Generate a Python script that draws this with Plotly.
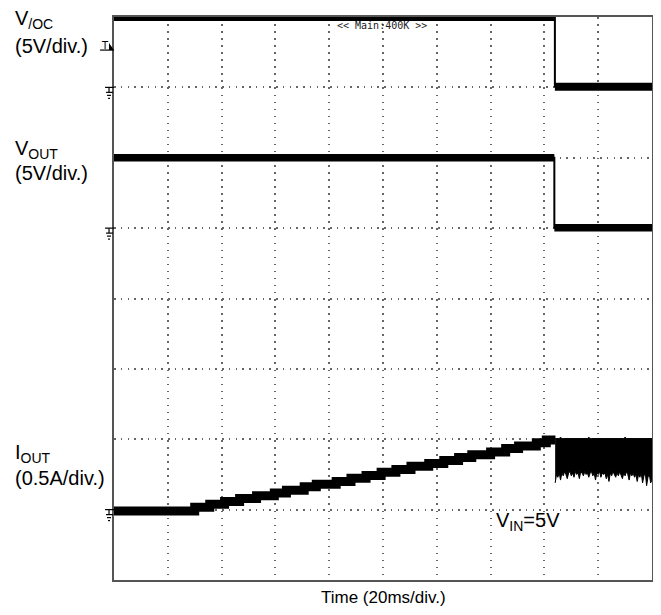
import plotly.graph_objects as go

# scope settings: 20 ms/div horizontally (10 div), 8 div vertically
t_div = 20.0
n_xdiv = 10
n_ydiv = 8

# channel ground positions (in divisions from bottom) and scale per division
voc_ground, voc_scale = 7, 5.0      # V/div
vout_ground, vout_scale = 5, 5.0    # V/div
iout_ground, iout_scale = 1, 0.5    # A/div
trigger_level = 2.65                # V on the /OC channel

# /OC pin voltage (V)
voc_t = [0, 163.9, 163.9, 200]
voc_v = [5.0, 5.0, 0.05, 0.05]

# output voltage (V)
vout_t = [0, 163.7, 163.7, 200]
vout_v = [5.0, 5.0, 0.03, 0.03]

# output current ramp (A), stepped as seen on the scope
iout_t = [0, 30.0, 35.6, 41.1, 46.7, 53.0, 59.6, 64.1, 70.7, 75.2, 82.6, 88.1, 93.7,
          99.3, 104.8, 110.4, 117.0, 122.6, 128.1, 133.0, 140.0, 145.6, 150.4, 157.0,
          160.7, 164.1]
iout_a = [-0.01, 0.016, 0.039, 0.058, 0.079, 0.098, 0.119, 0.138, 0.162, 0.181, 0.200,
          0.223, 0.242, 0.266, 0.285, 0.308, 0.328, 0.349, 0.370, 0.389, 0.410, 0.434,
          0.452, 0.476, 0.495, 0.495]

# noisy current after the switch turns off (A): upper and lower envelope
noise_t = [164, 164.5, 165, 165.5, 166, 166.5, 167, 167.5, 168, 168.5, 169, 169.5, 170,
           170.5, 171, 171.5, 172, 172.5, 173, 173.5, 174, 174.5, 175, 175.5, 176, 176.5,
           177, 177.5, 178, 178.5, 179, 179.5, 180, 180.5, 181, 181.5, 182, 182.5, 183,
           183.5, 184, 184.5, 185, 185.5, 186, 186.5, 187, 187.5, 188, 188.5, 189, 189.5,
           190, 190.5, 191, 191.5, 192, 192.5, 193, 193.5, 194, 194.5, 195, 195.5, 196,
           196.5, 197, 197.5, 198, 198.5, 199, 199.5, 200]
noise_top = [0.505] * 4 + [0.515] + [0.505] * 20 + [0.515] + [0.505] * 26 + [0.515] + [0.505] * 20
noise_bot = [0.19, 0.25, 0.23, 0.26, 0.21, 0.26, 0.24, 0.27, 0.25, 0.22, 0.26, 0.27,
             0.24, 0.26, 0.23, 0.27, 0.25, 0.26, 0.22, 0.27, 0.26, 0.24, 0.27, 0.25,
             0.26, 0.23, 0.26, 0.27, 0.24, 0.26, 0.21, 0.26, 0.25, 0.27, 0.23, 0.26,
             0.25, 0.26, 0.22, 0.25, 0.20, 0.26, 0.24, 0.27, 0.25, 0.23, 0.26, 0.24,
             0.27, 0.25, 0.22, 0.26, 0.24, 0.27, 0.25, 0.21, 0.26, 0.24, 0.26, 0.23,
             0.25, 0.20, 0.25, 0.23, 0.26, 0.19, 0.24, 0.26, 0.17, 0.23, 0.25, 0.19, 0.21]


def to_div(vals, ground, scale):
    return [ground + v / scale for v in vals]


def split_flat(ts, vs):
    # the two flat parts of a step waveform, drawn thick
    return ts[0:2] + [None] + ts[2:4], vs[0:2] + [None] + vs[2:4]


# the page body adds 8px around the figure
W, H = 653, 607
L, R, T, B = 106, 7, 8, 35
OFF = 8
pw, ph = W - L - R, H - T - B

fig = go.Figure()

# /OC channel
voc_y = to_div(voc_v, voc_ground, voc_scale)
fig.add_trace(go.Scatter(x=voc_t, y=voc_y, mode='lines', line=dict(color='black', width=2)))
sx, sy = split_flat(voc_t, voc_y)
fig.add_trace(go.Scatter(x=sx, y=sy, mode='lines', line=dict(color='black', width=8)))

# VOUT channel
vout_y = to_div(vout_v, vout_ground, vout_scale)
fig.add_trace(go.Scatter(x=vout_t, y=vout_y, mode='lines', line=dict(color='black', width=2)))
sx, sy = split_flat(vout_t, vout_y)
fig.add_trace(go.Scatter(x=sx, y=sy, mode='lines', line=dict(color='black', width=7.5)))

# IOUT channel
fig.add_trace(go.Scatter(x=iout_t, y=to_div(iout_a, iout_ground, iout_scale), mode='lines',
                         line=dict(color='black', width=9, shape='hv')))
band_x = noise_t + noise_t[::-1]
band_y = to_div(noise_top, iout_ground, iout_scale) + to_div(noise_bot[::-1], iout_ground, iout_scale)
fig.add_trace(go.Scatter(x=band_x, y=band_y, mode='lines', fill='toself', fillcolor='black',
                         line=dict(color='black', width=1)))

fig.update_xaxes(range=[0, t_div * n_xdiv], dtick=t_div, showticklabels=False, ticks='',
                 showgrid=True, gridcolor='#666', gridwidth=1.5, griddash='1.5px,5.55px',
                 zeroline=False, showline=True, mirror=True, linecolor='#555', linewidth=2)
fig.update_yaxes(range=[0, n_ydiv], dtick=1, showticklabels=False, ticks='',
                 showgrid=True, gridcolor='#666', gridwidth=1.5, griddash='1.5px,5.25px',
                 zeroline=False, showline=True, mirror=True, linecolor='#555', linewidth=2)


def px_x(dx):
    return dx / pw


def px_y(dy):
    return dy / ph


def page_x(px):
    return (px - OFF - L) / pw


def page_y(py):
    return 1 - (py - OFF - T) / ph


# ground markers at the left edge of each channel
for g in (voc_ground, vout_ground, iout_ground):
    yp = g / n_ydiv
    segs = [(-9, 0, 0, 0), (-5, -5, 0, 5), (-8, -1, 5, 5), (-7, -3, 8, 8), (-6, -4, 11, 11)]
    for x0, x1, y0, y1 in segs:
        fig.add_shape(type='line', xref='paper', yref='paper',
                      x0=px_x(x0), x1=px_x(x1), y0=yp - px_y(y0), y1=yp - px_y(y1),
                      line=dict(color='black', width=1.2))

# trigger marker
ty = (voc_ground + trigger_level / voc_scale) / n_ydiv
fig.add_shape(type='line', xref='paper', yref='paper', x0=px_x(-14), x1=0, y0=ty, y1=ty,
              line=dict(color='black', width=1.2))
fig.add_shape(type='path', xref='paper', yref='paper', fillcolor='black', line=dict(width=0),
              path=f'M {px_x(-5)},{ty + px_y(7)} L 0,{ty} L {px_x(-5)},{ty} Z')
fig.add_annotation(text='T', xref='paper', yref='paper', x=px_x(-9), y=ty + px_y(5),
                   showarrow=False, font=dict(size=10, color='black', family='DejaVu Sans'),
                   xanchor='center', yanchor='middle')

lab_font = dict(family='Liberation Sans, Arial, sans-serif', size=20, color='black')
labels = [('V<sub>/OC</sub>', 19), ('(5V/div.)', 45),
          ('V<sub>OUT</sub>', 149), ('(5V/div.)', 172),
          ('I<sub>OUT</sub>', 453), ('(0.5A/div.)', 478)]
for txt, ypx in labels:
    fig.add_annotation(text=txt, xref='paper', yref='paper', x=page_x(13),
                       y=page_y(ypx), xanchor='left', yanchor='middle',
                       showarrow=False, font=lab_font)

fig.add_annotation(text='V<sub>IN</sub>=5V', xref='paper', yref='paper', x=page_x(495),
                   y=page_y(521), xanchor='left', yanchor='middle', showarrow=False,
                   font=lab_font)
fig.add_annotation(text='Time (20ms/div.)', xref='paper', yref='paper', x=0.5,
                   y=page_y(598), xanchor='center', yanchor='middle', showarrow=False,
                   font=dict(family='Liberation Sans, Arial, sans-serif', size=17, color='black'))
fig.add_annotation(text='&lt;&lt; Main:400K &gt;&gt;', xref='paper', yref='paper', x=page_x(383),
                   y=page_y(25), xanchor='center', yanchor='middle', showarrow=False,
                   font=dict(family='DejaVu Sans Mono', size=10, color='#222'))

fig.update_layout(width=W, height=H, margin=dict(l=L, r=R, t=T, b=B),
                  paper_bgcolor='white', plot_bgcolor='white', showlegend=False)

fig.write_html("out.html")
